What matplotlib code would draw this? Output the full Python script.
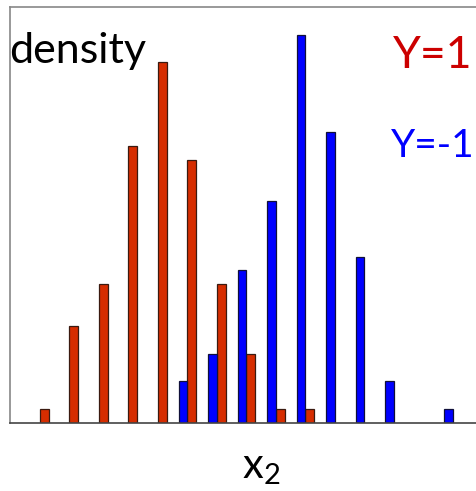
import matplotlib
matplotlib.use("Agg")
import matplotlib.pyplot as plt
import numpy as np

# histogram counts per bin of x2 for each class
bins = np.arange(15)
counts_pos = [1, 7, 10, 20, 26, 19, 10, 5, 1, 1, 0, 0, 0, 0, 0]   # Y=1
counts_neg = [0, 0, 0, 0, 0, 3, 5, 11, 16, 28, 21, 12, 3, 0, 1]   # Y=-1

W, H = 477, 491
plt.rcParams['font.family'] = ['Lato', 'DejaVu Sans']
plt.rcParams['mathtext.fontset'] = 'custom'
plt.rcParams['mathtext.rm'] = 'Lato'

fig = plt.figure(figsize=(W / 100, H / 100), dpi=100)
ax = fig.add_axes([10.5 / W, (H - 423) / H, 486.75 / W, 416 / H])

bw = 0.3
pos = np.array(counts_pos)
neg = np.array(counts_neg)
m = pos > 0
ax.bar(bins[m] + bw / 2, pos[m], width=bw, color='#d62d00', edgecolor='#3a1a10', linewidth=0.9)
m = neg > 0
ax.bar(bins[m] - bw / 2, neg[m], width=bw, color='#0000ff', edgecolor='#10103a', linewidth=0.9)

ax.set_xlim(-1, 15.5)
ax.set_ylim(0, 30)
ax.set_xticks([])
ax.set_yticks([])
for side in ['left', 'top']:
    ax.spines[side].set_color('#888888')
ax.spines['bottom'].set_color('#444444')
ax.spines['right'].set_visible(False)
for s in ax.spines.values():
    s.set_linewidth(1.2)


def put(x, y, s, **kw):
    fig.text(x / W, 1 - y / H, s, va='baseline', ha='left', **kw)


put(9, 63, 'density', fontsize=31, color='black')
put(393, 68, 'Y=1', fontsize=32, color='#cc0000')
put(391, 157, 'Y=-1', fontsize=28, color='#0000ff')
put(242, 478, r'$\mathregular{x_2}$', fontsize=30, color='black')

fig.savefig('out.png', dpi=100)
